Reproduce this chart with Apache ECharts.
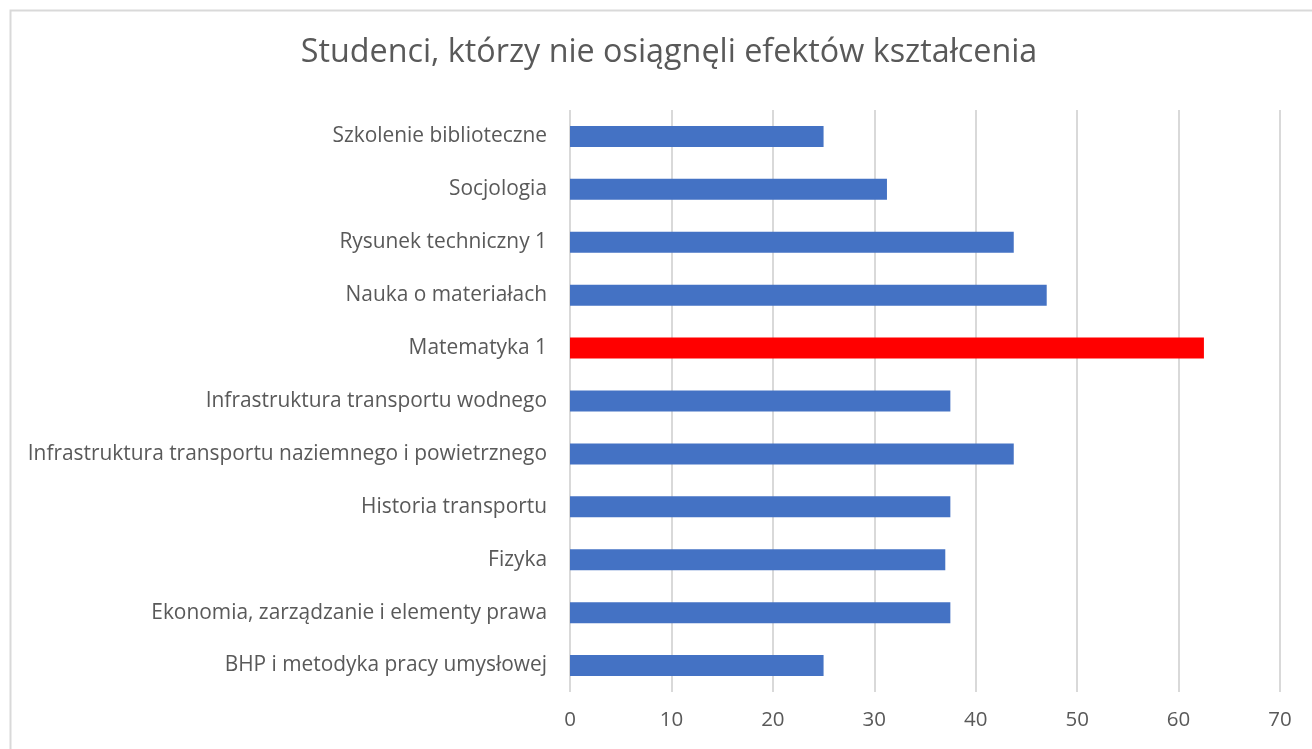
<!DOCTYPE html>
<html>
<head>
<meta charset="utf-8">
<script src="https://cdn.jsdelivr.net/npm/echarts@6/dist/echarts.min.js"></script>
<style>
  html, body { margin: 0; padding: 0; background: #fff; }
  #chart { width: 1312px; height: 749px; }
</style>
</head>
<body>
<div id="chart"></div>
<script>
// --- data (bottom to top, as the category axis draws it) ---
const subjects = [
  "BHP i metodyka pracy umysłowej",
  "Ekonomia, zarządzanie i elementy prawa",
  "Fizyka",
  "Historia transportu",
  "Infrastruktura transportu naziemnego i powietrznego",
  "Infrastruktura transportu wodnego",
  "Matematyka 1",
  "Nauka o materiałach",
  "Rysunek techniczny 1",
  "Socjologia",
  "Szkolenie biblioteczne",
];
const percentFailed = [25, 37.5, 37, 37.5, 43.75, 37.5, 62.5, 47, 43.75, 31.25, 25];
const highlighted = "Matematyka 1";

const FONT = "'Open Sans', 'Noto Sans', sans-serif";
const TEXT = "#595959";

const chart = echarts.init(document.getElementById("chart"), null, { renderer: "canvas" });

chart.setOption({
  animation: false,
  title: {
    text: "Studenci, którzy nie osiągnęli efektów kształcenia",
    left: 664,
    top: 32,
    textAlign: "center",
    textStyle: { fontFamily: FONT, fontSize: 32.3, fontWeight: "normal", color: TEXT },
  },
  // outer chart border (cropped on the right and bottom like the source)
  graphic: [{
    type: "rect",
    silent: true,
    shape: { x: 10.5, y: 10.5, width: 1400, height: 800 },
    style: { fill: "none", stroke: "#d9d9d9", lineWidth: 2 },
  }],
  grid: { left: 570, right: 32, top: 110, bottom: 57, containLabel: false },
  xAxis: {
    type: "value",
    min: 0,
    max: 70,
    interval: 10,
    axisLine: { show: false },
    axisTick: { show: false },
    axisLabel: { fontFamily: FONT, fontSize: 20.5, color: TEXT, margin: 18 },
    splitLine: { lineStyle: { color: "#d9d9d9", width: 2 } },
  },
  yAxis: {
    type: "category",
    data: subjects,
    axisLine: { show: false },
    axisTick: { show: false },
    axisLabel: { fontFamily: FONT, fontSize: 20.9, color: TEXT, margin: 23 },
  },
  series: [{
    type: "bar",
    data: percentFailed,
    barWidth: 21,
    itemStyle: {
      color: (p) => (p.name === highlighted ? "#ff0000" : "#4472c4"),
    },
  }],
});
</script>
</body>
</html>
